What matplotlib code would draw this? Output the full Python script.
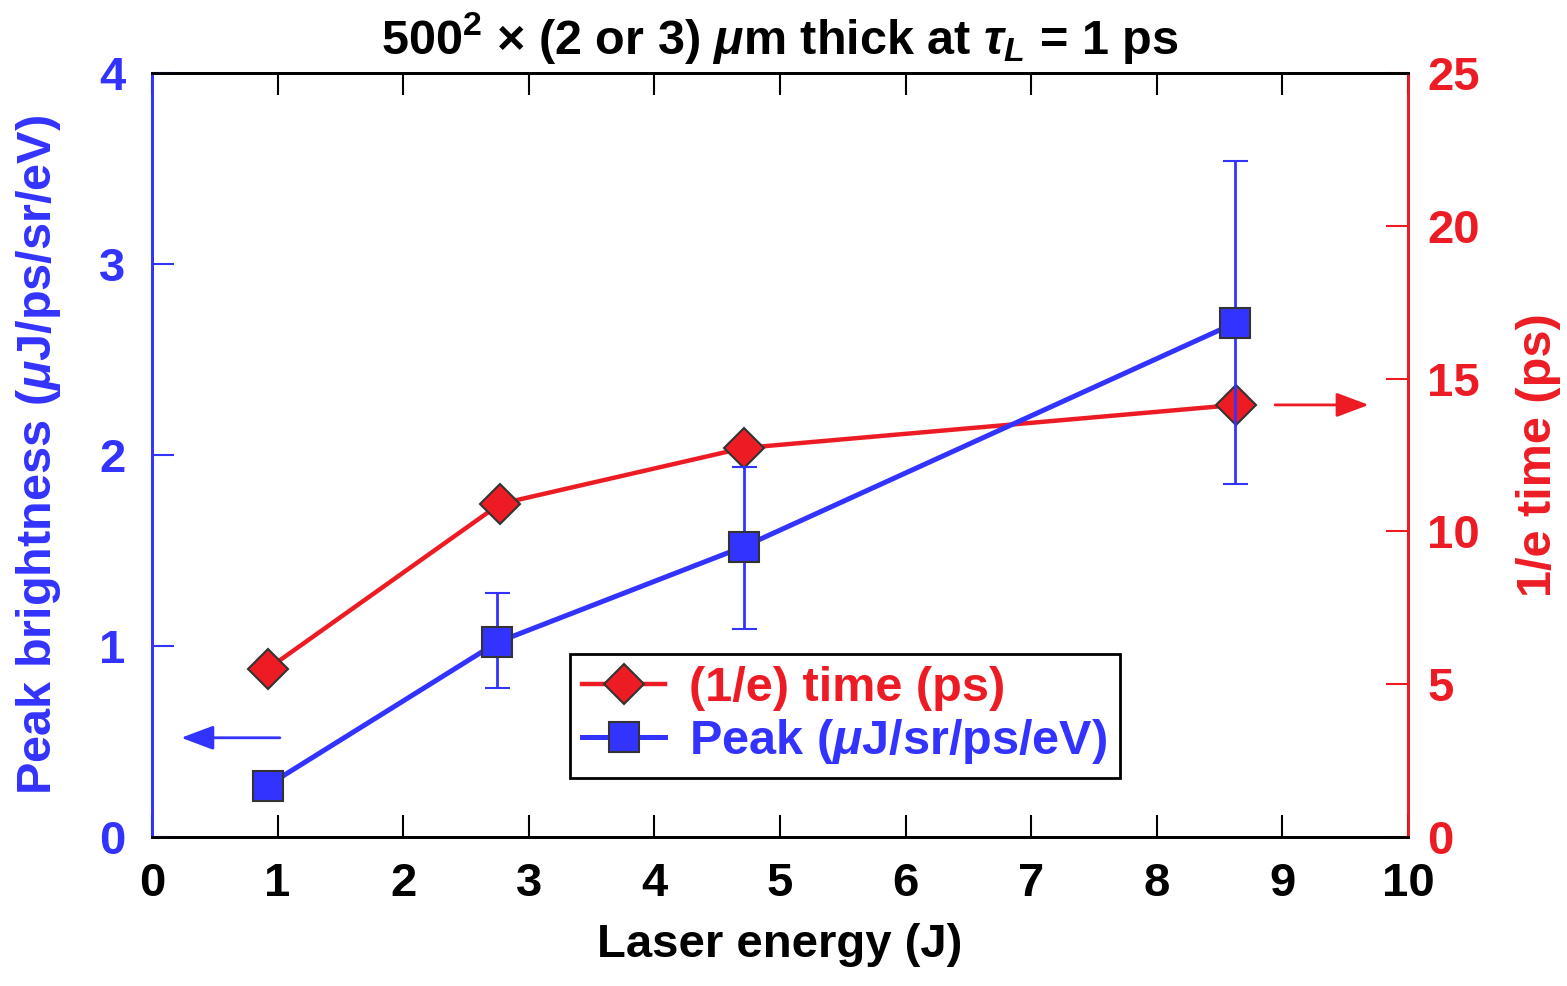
import matplotlib
matplotlib.use('Agg')
import matplotlib.pyplot as plt
from matplotlib.lines import Line2D

plt.rcParams['font.family'] = ['Liberation Sans', 'DejaVu Sans']
plt.rcParams['font.weight'] = 'bold'
plt.rcParams['mathtext.fontset'] = 'custom'
plt.rcParams['mathtext.rm'] = 'Liberation Sans:bold'
plt.rcParams['mathtext.it'] = 'Liberation Sans:bold:italic'
plt.rcParams['mathtext.bf'] = 'Liberation Sans:bold'

BLUE = '#3333ff'
RED = '#ed1c24'

# peak brightness (left axis)
energy_peak = [0.92, 2.75, 4.71, 8.62]
peak = [0.27, 1.02, 1.52, 2.69]
peak_err_lo = [0.0, 0.24, 0.43, 0.84]
peak_err_hi = [0.0, 0.26, 0.42, 0.85]

# 1/e decay time (right axis)
energy_time = [0.92, 2.77, 4.71, 8.63]
decay_time = [5.5, 10.9, 12.73, 14.14]

x_ticks = list(range(0, 11))
peak_ticks = [0, 1, 2, 3, 4]
time_ticks = [0, 5, 10, 15, 20, 25]

fs = 34

fig, ax1 = plt.subplots(figsize=(15.67, 9.86), dpi=100)
fig.subplots_adjust(left=0.097, right=0.8985, bottom=0.151, top=0.926)
ax2 = ax1.twinx()
ax1.set_zorder(ax2.get_zorder() + 1)
ax1.patch.set_visible(False)

# red series on the right axis
ax2.plot(energy_time, decay_time, color=RED, lw=3.2, marker='D', ms=20,
         markerfacecolor=RED, markeredgecolor='#333333', markeredgewidth=1.5,
         zorder=3)

# blue series with error bars on the left axis
ax1.errorbar(energy_peak, peak, yerr=[peak_err_lo, peak_err_hi], color=BLUE,
             ecolor=BLUE, elinewidth=2, capsize=9, capthick=2, lw=3.6,
             marker='s', ms=21, markerfacecolor=BLUE,
             markeredgecolor='#333333', markeredgewidth=1.5, zorder=3)

ax1.set_xlim(0, 10)
ax1.set_ylim(0, 4)
ax2.set_ylim(0, 25)
ax1.set_xticks(x_ticks)
ax1.set_yticks(peak_ticks)
ax2.set_yticks(time_ticks)

ax1.tick_params(axis='x', direction='in', length=16, width=1.5, colors='black',
                labelsize=fs, pad=18, top=True)
ax1.tick_params(axis='y', direction='in', length=16, width=1.5, colors=BLUE,
                labelsize=fs, pad=19, right=False)
ax2.tick_params(axis='y', direction='in', length=16, width=1.5, colors=RED,
                labelsize=fs, pad=14)
ax2.tick_params(axis='x', top=False, bottom=False)

for ax in (ax1, ax2):
    for s in ax.spines.values():
        s.set_linewidth(2)
    ax.spines['top'].set_color('black')
    ax.spines['bottom'].set_color('black')
    ax.spines['left'].set_color(BLUE)
    ax.spines['right'].set_color(RED)

ax1.set_xlabel('Laser energy (J)', fontsize=fs, fontweight='bold', labelpad=12)
ax1.set_ylabel(r'Peak brightness ($\mu$J/ps/sr/eV)', fontsize=fs + 1,
               fontweight='bold', color=BLUE, labelpad=26)
ax2.set_ylabel('1/e time (ps)', fontsize=fs + 1, fontweight='bold', color=RED,
               labelpad=26)
ax1.set_title(r'500$^2$ $\times$ (2 or 3) $\mu$m thick at $\tau_L$ = 1 ps',
              fontsize=fs + 1, fontweight='bold', pad=14)

# arrows pointing to the matching axis
arrow_style = '-|>,head_length=2.0,head_width=0.75'
ax1.annotate('', xy=(0.21, 0.52), xytext=(1.04, 0.52),
             arrowprops=dict(arrowstyle=arrow_style, color=BLUE, lw=2))
ax2.annotate('', xy=(9.71, 14.14), xytext=(8.92, 14.14),
             arrowprops=dict(arrowstyle=arrow_style, color=RED, lw=2))

h_time = Line2D([], [], color=RED, lw=3.2, marker='D', ms=20,
                markerfacecolor=RED, markeredgecolor='#333333',
                markeredgewidth=1.5)
h_peak = Line2D([], [], color=BLUE, lw=3.6, marker='s', ms=21,
                markerfacecolor=BLUE, markeredgecolor='#333333',
                markeredgewidth=1.5)
leg = ax1.legend([h_time, h_peak], ['(1/e) time (ps)', r'Peak ($\mu$J/sr/ps/eV)'],
                 loc='upper left', bbox_to_anchor=(0.333, 0.2395),
                 borderaxespad=0, fancybox=False, framealpha=1,
                 edgecolor='black', fontsize=fs + 1, handlelength=1.7,
                 handletextpad=0.5, borderpad=0.25, labelspacing=0.12)
leg.get_frame().set_linewidth(2)
leg.get_texts()[0].set_color(RED)
leg.get_texts()[1].set_color(BLUE)

fig.savefig('out.png', dpi=100)
